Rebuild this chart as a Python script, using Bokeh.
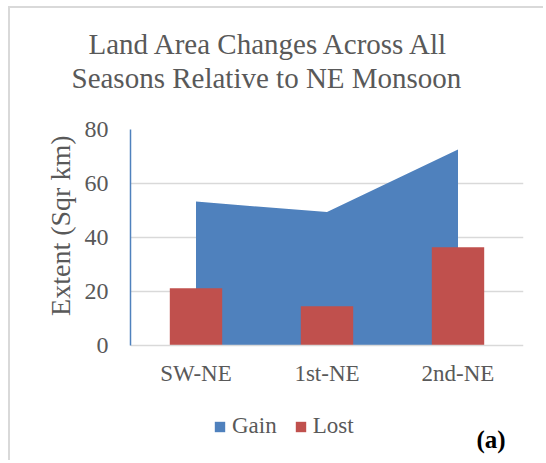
from bokeh.plotting import figure
from bokeh.models import (FactorRange, Range1d, Legend, LegendItem, FixedTicker,
                          ColumnDataSource, Title, Label)
from bokeh.embed import file_html
from bokeh.resources import INLINE

categories = ["SW-NE", "1st-NE", "2nd-NE"]
gain = [53.3, 49.4, 72.6]
lost = [21.2, 14.5, 36.4]
title_lines = ["Land Area Changes Across All", "Seasons Relative to NE Monsoon"]
y_label = "Extent (Sqr km)"
y_ticks = [0, 20, 40, 60, 80]
y_max = 80

BLUE = "#4F81BD"
RED = "#C0504D"
GRID = "#D9D9D9"
TEXT = "#595959"
FONT = "Liberation Serif"

# layout (pixels)
W, H = 535, 454
TOP, LEFT, RIGHT = 121, 120, 22
PLOT_H = 216                      # pixel height of the 0..80 value band
frame_h = H - TOP
y_min = -y_max * (frame_h - PLOT_H) / PLOT_H   # room below 0 for labels / legend

src = ColumnDataSource(dict(cat=categories, gain=gain, lost=lost, zero=[0] * len(categories)))

p = figure(width=W, height=H, x_range=FactorRange(*categories, range_padding=0),
           y_range=Range1d(y_min, y_max), output_backend="svg", toolbar_location=None,
           min_border_left=LEFT, min_border_right=RIGHT, min_border_top=TOP, min_border_bottom=0)
p.styles = {"border-left": "2px solid #D9D9D9", "border-top": "2px solid #D9D9D9",
            "margin-left": "8px", "margin-top": "6px"}
p.outline_line_color = None
p.background_fill_color = "white"

area = p.varea(x="cat", y1="zero", y2="gain", source=src, fill_color=BLUE)
bars = p.vbar(x="cat", top="lost", width=0.4, source=src, fill_color=RED, line_color=None)

p.xgrid.grid_line_color = None
p.ygrid.grid_line_color = GRID
p.ygrid.grid_line_width = 1.5
p.ygrid.ticker = FixedTicker(ticks=y_ticks[1:])

p.yaxis.ticker = FixedTicker(ticks=y_ticks)
p.yaxis.bounds = (0, y_max)
p.yaxis.axis_line_color = BLUE
p.yaxis.axis_line_width = 1.5
p.yaxis.major_tick_line_color = None
p.yaxis.minor_tick_line_color = None
p.yaxis.major_tick_out = 0
p.yaxis.major_tick_in = 0
p.yaxis.minor_tick_out = 0
p.yaxis.major_label_text_font = FONT
p.yaxis.major_label_text_font_size = "24px"
p.yaxis.major_label_text_color = TEXT
p.yaxis.major_label_standoff = 22

p.xaxis.fixed_location = 0
p.xaxis.axis_line_color = GRID
p.xaxis.axis_line_width = 1.5
p.xaxis.major_tick_line_color = None
p.xaxis.minor_tick_line_color = None
p.xaxis.major_tick_out = 0
p.xaxis.major_tick_in = 0
p.xaxis.major_label_text_font = FONT
p.xaxis.major_label_text_font_size = "23px"
p.xaxis.major_label_text_color = TEXT
p.xaxis.major_label_standoff = 15

# y-axis title as a rotated side title next to the tick labels, plus an outer spacer
p.add_layout(Title(text=y_label, align="right", offset=6, standoff=12,
                   text_font=FONT, text_font_size="28px", text_font_style="normal",
                   text_color=TEXT), "left")
p.add_layout(Title(text="\u00a0", standoff=12, text_font=FONT, text_font_size="10px",
                   text_color="white"), "left")

# Chart title: spacer nearest the frame, then line 2, then line 1
p.title = None
spacer = Title(text="\u00a0", standoff=23, text_font=FONT, text_font_size="10px",
               text_color="white")
t2 = Title(text=title_lines[1], align="left", offset=-59, standoff=0,
           text_font=FONT, text_font_size="29px", text_font_style="normal", text_color=TEXT)
t1 = Title(text=title_lines[0], align="left", offset=-42, standoff=0,
           text_font=FONT, text_font_size="29px", text_font_style="normal", text_color=TEXT)
p.add_layout(spacer, "above")
p.add_layout(t2, "above")
p.add_layout(t1, "above")

legend = Legend(items=[LegendItem(label="Gain", renderers=[area]),
                       LegendItem(label="Lost", renderers=[bars])],
                orientation="horizontal", location=(83, 23),
                label_text_font=FONT, label_text_font_size="23px", label_text_color=TEXT,
                glyph_width=13, glyph_height=13, label_standoff=6, spacing=17,
                padding=0, margin=0, border_line_color=None, background_fill_alpha=0)
p.add_layout(legend, "center")

p.add_layout(Label(x=346, y=23, x_units="screen", y_units="screen", text="(a)",
                   text_font=FONT, text_font_size="25px", text_font_style="bold",
                   text_color="black", text_baseline="alphabetic"))

open("out.html", "w").write(file_html(p, INLINE))
